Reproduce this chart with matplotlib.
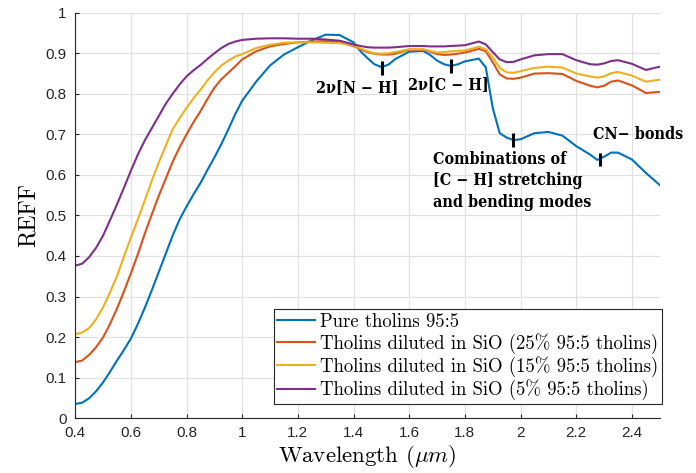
import matplotlib
matplotlib.use("Agg")
import matplotlib.pyplot as plt

plt.rcParams['mathtext.fontset'] = 'cm'

# ---------------- data ----------------
wl = [0.400, 0.425, 0.450, 0.475, 0.500, 0.525, 0.550, 0.575, 0.600, 0.625, 0.650, 0.675,
      0.700, 0.725, 0.750, 0.775, 0.800, 0.825, 0.850, 0.875, 0.900, 0.925, 0.950, 0.975,
      1.000, 1.05, 1.10, 1.15, 1.20, 1.25, 1.30, 1.35, 1.40, 1.425, 1.45, 1.475,
      1.50, 1.525, 1.55, 1.60, 1.65, 1.675, 1.70, 1.725, 1.75, 1.775, 1.80, 1.85,
      1.875, 1.90, 1.925, 1.95, 1.975, 2.00, 2.05, 2.10, 2.15, 2.20, 2.25, 2.275,
      2.30, 2.325, 2.35, 2.40, 2.45, 2.50]

pure = [0.035, 0.038, 0.049, 0.066, 0.088, 0.114, 0.142, 0.168, 0.196, 0.232, 0.272, 0.315,
        0.360, 0.405, 0.450, 0.490, 0.522, 0.552, 0.580, 0.612, 0.643, 0.676, 0.712, 0.750,
        0.783, 0.830, 0.870, 0.897, 0.915, 0.932, 0.946, 0.945, 0.927, 0.905, 0.888, 0.873,
        0.866, 0.872, 0.886, 0.904, 0.906, 0.896, 0.882, 0.873, 0.869, 0.873, 0.880, 0.887,
        0.865, 0.765, 0.703, 0.692, 0.686, 0.688, 0.703, 0.706, 0.697, 0.671, 0.650, 0.637,
        0.645, 0.655, 0.655, 0.638, 0.605, 0.575]

sio25 = [0.138, 0.142, 0.156, 0.175, 0.199, 0.232, 0.270, 0.312, 0.357, 0.404, 0.455, 0.502,
         0.548, 0.590, 0.632, 0.668, 0.700, 0.730, 0.757, 0.787, 0.815, 0.836, 0.852, 0.868,
         0.885, 0.905, 0.917, 0.923, 0.927, 0.929, 0.930, 0.927, 0.918, 0.910, 0.903, 0.899,
         0.897, 0.897, 0.899, 0.909, 0.909, 0.904, 0.898, 0.896, 0.897, 0.899, 0.902, 0.911,
         0.905, 0.878, 0.848, 0.838, 0.837, 0.840, 0.850, 0.851, 0.849, 0.832, 0.820, 0.816,
         0.820, 0.830, 0.833, 0.821, 0.802, 0.805]

sio15 = [0.207, 0.211, 0.222, 0.244, 0.273, 0.310, 0.350, 0.398, 0.445, 0.490, 0.537, 0.585,
         0.630, 0.672, 0.712, 0.740, 0.765, 0.789, 0.810, 0.833, 0.853, 0.870, 0.882, 0.892,
         0.898, 0.913, 0.921, 0.926, 0.927, 0.927, 0.926, 0.925, 0.920, 0.912, 0.905, 0.900,
         0.899, 0.900, 0.903, 0.910, 0.910, 0.906, 0.902, 0.903, 0.905, 0.906, 0.907, 0.916,
         0.910, 0.890, 0.864, 0.853, 0.852, 0.856, 0.864, 0.867, 0.865, 0.850, 0.843, 0.840,
         0.843, 0.851, 0.854, 0.845, 0.830, 0.835]

sio5 = [0.376, 0.381, 0.397, 0.420, 0.450, 0.488, 0.527, 0.568, 0.610, 0.650, 0.685, 0.715,
        0.745, 0.775, 0.800, 0.823, 0.843, 0.858, 0.871, 0.886, 0.900, 0.913, 0.923, 0.929,
        0.933, 0.936, 0.937, 0.937, 0.936, 0.936, 0.934, 0.931, 0.922, 0.918, 0.915, 0.914,
        0.914, 0.914, 0.915, 0.918, 0.918, 0.917, 0.917, 0.917, 0.918, 0.919, 0.920, 0.929,
        0.922, 0.903, 0.885, 0.878, 0.879, 0.885, 0.895, 0.898, 0.898, 0.883, 0.873, 0.872,
        0.875, 0.881, 0.883, 0.874, 0.859, 0.867]

series = [pure, sio25, sio15, sio5]
labels = ["Pure tholins 95:5",
          "Tholins diluted in SiO (25% 95:5 tholins)",
          "Tholins diluted in SiO (15% 95:5 tholins)",
          "Tholins diluted in SiO (5% 95:5 tholins)"]
colors = ["#0072BD", "#D95319", "#EDB120", "#7E2F8E"]

xticks = [0.4, 0.6, 0.8, 1.0, 1.2, 1.4, 1.6, 1.8, 2.0, 2.2, 2.4]
xticklabels = ["0.4", "0.6", "0.8", "1", "1.2", "1.4", "1.6", "1.8", "2", "2.2", "2.4"]
yticks = [0, 0.1, 0.2, 0.3, 0.4, 0.5, 0.6, 0.7, 0.8, 0.9, 1.0]
yticklabels = ["0", "0.1", "0.2", "0.3", "0.4", "0.5", "0.6", "0.7", "0.8", "0.9", "1"]

# annotation markers: (wavelength, y_low, y_high)
markers = [(1.503, 0.846, 0.881), (1.749, 0.852, 0.885),
           (1.972, 0.668, 0.704), (2.285, 0.621, 0.654)]

# ---------------- figure ----------------
fig = plt.figure(figsize=(6.96, 4.73), dpi=100)
ax = fig.add_axes([0.108, 0.116, 0.840, 0.857])

for y, lab, c in zip(series, labels, colors):
    ax.plot(wl, y, color=c, lw=1.5, label=lab, solid_joinstyle="round")

ax.set_xlim(0.4, 2.5)
ax.set_ylim(0, 1)
ax.set_xticks(xticks)
ax.set_xticklabels(xticklabels)
ax.set_yticks(yticks)
ax.set_yticklabels(yticklabels)
ax.grid(True, color="#e1e1e1", lw=0.9)
ax.set_axisbelow(True)
for s in ["top", "right"]:
    ax.spines[s].set_visible(False)
for s in ["left", "bottom"]:
    ax.spines[s].set_color("#262626")
    ax.spines[s].set_linewidth(0.8)
ax.tick_params(direction="in", length=3, width=0.8, colors="#262626",
               labelsize=11, labelcolor="#262626", pad=6)
for t in ax.get_xticklabels() + ax.get_yticklabels():
    t.set_family("Liberation Sans")

ax.set_xlabel(r"Wavelength ($\mu m$)", family="cmr10", fontsize=16.5, labelpad=2)
ax.set_ylabel("REFF", family="cmr10", fontsize=17, labelpad=4)

for xm, y0, y1 in markers:
    ax.plot([xm, xm], [y0, y1], color="black", lw=2.2, solid_capstyle="butt")

afont = dict(family="DejaVu Serif", fontweight="bold", fontsize=11.5,
             fontstretch="condensed", color="black")
ax.text(1.414, 0.815, "2ν[N − H]", ha="center", va="center", **afont)
ax.text(1.742, 0.823, "2ν[C − H]", ha="center", va="center", **afont)
ax.text(1.686, 0.586, "Combinations of\n[C − H] stretching\nand bending modes",
        ha="left", va="center", linespacing=1.35, **afont)
ax.text(2.259, 0.700, "CN− bonds", ha="left", va="center", clip_on=False, **afont)

leg = ax.legend(loc="lower right", bbox_to_anchor=(1.003, 0.035),
                prop=dict(family="cmr10", size=13.5), frameon=True, fancybox=False,
                handlelength=2.0, handletextpad=0.25, borderpad=0.2, labelspacing=0.12,
                borderaxespad=0.0)
leg.get_frame().set_edgecolor("#262626")
leg.get_frame().set_linewidth(0.8)
leg.get_frame().set_alpha(1)

fig.savefig("out.png", dpi=100)
